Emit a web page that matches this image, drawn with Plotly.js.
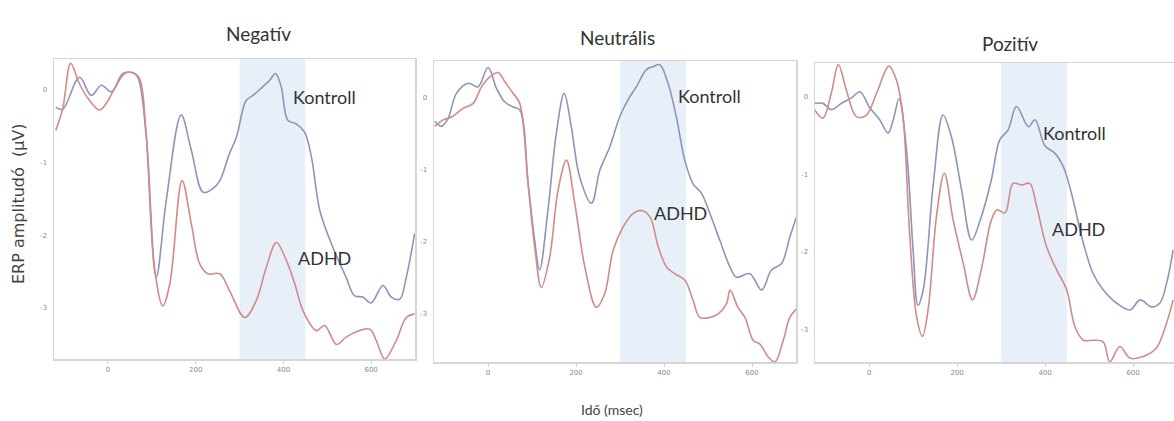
<!DOCTYPE html>
<html>
<head>
<meta charset="utf-8">
<script src="https://cdn.plot.ly/plotly-3.0.1.min.js"></script>
<style>html,body{margin:0;padding:0;background:#fff;}#chart{width:1174px;height:421px;}</style>
</head>
<body>
<div id="chart"></div>
<script>
// ---- Data ----
const panelTitles = ["Negatív", "Neutrális", "Pozitív"];
const seriesNames = ["Kontroll", "ADHD"];
const xTicks = [0, 200, 400, 600];
const yTicks = [0, -1, -2, -3];
const windowStart = 300, windowEnd = 450;

// Negatív
const negKontrollT = [-119,-103,-65,-38,-15,8,34,57,68,87,110,133,167,190,217,239,255,277,293,315,331,353,369,382,395,410,429,448,464,483,513,543,562,581,600,627,646,665,680,699];
const negKontrollV = [-0.24,-0.27,0.17,-0.08,0.06,-0.03,0.22,0.23,0.17,-0.61,-2.58,-1.52,-0.35,-0.83,-1.41,-1.36,-1.25,-0.88,-0.65,-0.15,-0.08,0.04,0.13,0.22,0.04,-0.42,-0.47,-0.58,-0.93,-1.66,-2.17,-2.58,-2.83,-2.85,-2.93,-2.69,-2.85,-2.88,-2.58,-1.98];
const negAdhdT = [-119,-103,-85,-65,-42,-19,-4,15,38,57,72,87,106,125,141,169,190,209,228,255,277,312,338,361,384,407,426,445,475,494,521,543,574,597,612,631,657,680,699];
const negAdhdV = [-0.56,-0.26,0.36,0.08,-0.15,-0.28,-0.19,0.01,0.22,0.23,0.15,-0.61,-2.44,-2.97,-2.67,-1.25,-1.84,-2.39,-2.53,-2.53,-2.76,-3.13,-2.90,-2.44,-2.10,-2.35,-2.67,-3.04,-3.31,-3.24,-3.50,-3.40,-3.31,-3.29,-3.45,-3.70,-3.45,-3.13,-3.08];

// Neutrális
const neuKontrollT = [-121,-106,-91,-72,-45,-23,0,19,38,57,72,91,106,117,136,155,173,189,208,235,254,277,299,318,337,360,375,390,409,428,447,466,485,504,527,550,565,595,622,644,667,686,701];
const neuKontrollV = [-0.33,-0.40,-0.29,0.06,0.20,0.15,0.42,0.13,-0.06,-0.13,-0.17,-1.20,-1.99,-2.40,-1.57,-0.50,0.06,-0.40,-1.10,-1.47,-1.01,-0.68,-0.27,-0.03,0.15,0.39,0.43,0.46,0.20,-0.27,-0.87,-1.20,-1.33,-1.61,-1.99,-2.36,-2.50,-2.45,-2.68,-2.40,-2.31,-1.94,-1.66];
const neuAdhdT = [-121,-102,-83,-57,-34,-15,4,23,38,57,72,91,106,121,140,159,178,197,220,246,265,284,307,330,349,368,387,406,424,447,466,481,504,523,542,550,568,584,603,618,637,652,671,686,701];
const neuAdhdV = [-0.40,-0.31,-0.27,-0.15,-0.08,0.15,0.29,0.35,0.22,0.06,-0.08,-1.20,-2.08,-2.64,-2.22,-1.29,-0.87,-1.47,-2.36,-2.92,-2.73,-2.13,-1.80,-1.61,-1.57,-1.66,-2.08,-2.36,-2.45,-2.54,-2.82,-3.06,-3.06,-3.01,-2.87,-2.68,-2.92,-3.06,-3.38,-3.43,-3.61,-3.68,-3.38,-3.06,-2.94];

// Pozitív
const pozKontrollT = [-124,-105,-86,-63,-40,-21,2,24,43,55,68,85,100,111,123,146,168,187,210,233,255,278,297,316,335,362,377,400,422,441,460,487,509,532,562,593,616,642,661,676,691];
const pozKontrollV = [-0.09,-0.09,-0.17,-0.09,-0.02,0.06,-0.15,-0.30,-0.47,-0.30,-0.03,-0.69,-1.98,-2.69,-2.49,-1.12,-0.24,-0.52,-1.20,-1.85,-1.55,-1.07,-0.56,-0.43,-0.13,-0.39,-0.30,-0.64,-0.73,-0.90,-1.25,-1.89,-2.28,-2.49,-2.66,-2.75,-2.62,-2.71,-2.66,-2.41,-1.98];
const pozAdhdT = [-124,-105,-86,-70,-52,-29,-6,17,45,62,77,92,108,121,134,153,171,191,214,235,255,278,291,309,327,347,365,381,403,426,449,468,487,509,532,547,570,593,623,653,676,691];
const pozAdhdV = [-0.17,-0.28,0.04,0.41,0.09,-0.26,-0.24,0.04,0.39,0.21,-0.26,-1.76,-2.84,-3.09,-2.75,-1.55,-0.99,-1.59,-2.15,-2.62,-2.23,-1.59,-1.46,-1.50,-1.12,-1.14,-1.12,-1.42,-1.93,-2.23,-2.49,-2.97,-3.14,-3.14,-3.16,-3.42,-3.22,-3.37,-3.35,-3.24,-2.92,-2.62];

const panels = [
  {k:[negKontrollT,negKontrollV], a:[negAdhdT,negAdhdV]},
  {k:[neuKontrollT,neuKontrollV], a:[neuAdhdT,neuAdhdV]},
  {k:[pozKontrollT,pozKontrollV], a:[pozAdhdT,pozAdhdV]}
];

// ---- Layout geometry (pixels) ----
const W = 1174, H = 421;
const px = (x) => x / W;
const py = (y) => 1 - y / H;
const geom = [
  {x0:54, x1:415, y0:59, y1:359, xr:[-123,700], yr:[-3.70,0.42]},
  {x0:434, x1:796, y0:61, y1:362, xr:[-123,700], yr:[-3.68,0.51]},
  {x0:815, x1:1174, y0:63, y1:362, xr:[-123,693], yr:[-3.42,0.43]}
];
const blue = "rgb(142,148,186)";
const red = "rgb(210,138,138)";

const traces = [];
const layout = {
  width: W, height: H,
  margin: {l:0, r:0, t:0, b:0},
  paper_bgcolor: "#fff", plot_bgcolor: "#fff",
  showlegend: false,
  shapes: [], annotations: []
};

panels.forEach((p, i) => {
  const n = i === 0 ? "" : String(i + 1);
  const g = geom[i];
  traces.push({x:p.k[0], y:p.k[1], xaxis:"x"+n, yaxis:"y"+n, type:"scatter", mode:"lines",
    name:seriesNames[0], line:{color:blue, width:1.6, shape:"spline", smoothing:1}});
  traces.push({x:p.a[0], y:p.a[1], xaxis:"x"+n, yaxis:"y"+n, type:"scatter", mode:"lines",
    name:seriesNames[1], line:{color:red, width:1.6, shape:"spline", smoothing:1}});
  const axCommon = {showgrid:false, zeroline:false, showline:true, linecolor:"#d6d6d6", linewidth:1.5,
    mirror:true, ticks:"outside", ticklen:3, tickcolor:"#d0d0d0",
    tickfont:{family:"DejaVu Sans", size:7, color:"#8c8c8c"}, fixedrange:true};
  layout["xaxis"+n] = Object.assign({}, axCommon, {domain:[px(g.x0), px(g.x1)], range:g.xr,
    anchor:"y"+n, tickvals:xTicks, ticktext:xTicks.map(String)});
  layout["yaxis"+n] = Object.assign({}, axCommon, {domain:[py(g.y1), py(g.y0)], range:g.yr,
    anchor:"x"+n, tickvals:yTicks, ticktext:yTicks.map(String), ticks:"", ticklabelstandoff:4});
  layout.shapes.push({type:"rect", xref:"x"+n, yref:"y"+n+" domain", x0:windowStart, x1:windowEnd,
    y0:0, y1:1, fillcolor:"rgb(231,239,249)", line:{width:0}, layer:"below"});
});

// Panel titles
const titlePos = [[258,33],[617,38],[1010,43]];
panelTitles.forEach((t, i) => {
  layout.annotations.push({text:t, xref:"paper", yref:"paper", x:px(titlePos[i][0]), y:py(titlePos[i][1]),
    showarrow:false, xanchor:"center", yanchor:"middle", font:{family:"Lato", size:19, color:"#333"}});
});
// Series labels
const labelPos = [
  [[324,97],[324,258]],
  [[709,96],[680,213]],
  [[1074,133],[1078,229]]
];
labelPos.forEach((lp) => {
  lp.forEach((pos, j) => {
    layout.annotations.push({text:seriesNames[j], xref:"paper", yref:"paper", x:px(pos[0]), y:py(pos[1]),
      showarrow:false, xanchor:"center", yanchor:"middle", font:{family:"Lato", size:18, color:"#333"}});
  });
});
// Axis titles
layout.annotations.push({text:"ERP amplitudó  (µV)", xref:"paper", yref:"paper", x:px(18), y:py(204),
  showarrow:false, textangle:-90, xanchor:"center", yanchor:"middle",
  font:{family:"DejaVu Sans", size:16, color:"#444"}});
layout.annotations.push({text:"Idő (msec)", xref:"paper", yref:"paper", x:px(612), y:py(409),
  showarrow:false, xanchor:"center", yanchor:"middle", font:{family:"Lato", size:14, color:"#444"}});

Plotly.newPlot("chart", traces, layout, {staticPlot:true, displayModeBar:false});
</script>
</body>
</html>
